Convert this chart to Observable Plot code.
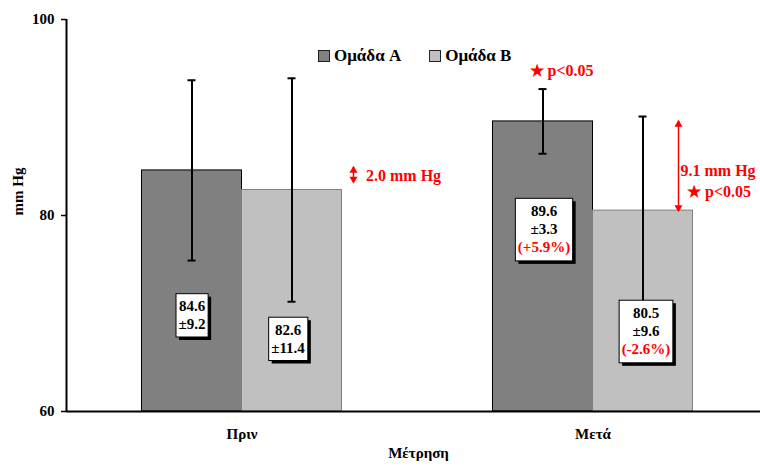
<!DOCTYPE html>
<html><head><meta charset="utf-8">
<script src="https://cdn.jsdelivr.net/npm/d3@7"></script>
<script src="https://cdn.jsdelivr.net/npm/@observablehq/plot@0.6"></script>
<style>
body{margin:0;background:#fff;}
#chart{position:relative;width:760px;height:466px;font-family:'Liberation Serif',serif;}
#legend{position:absolute;top:46px;left:318px;display:flex;align-items:center;font-family:'Liberation Serif',serif;font-size:17px;font-weight:bold;color:#000;}
#legend .item{display:flex;align-items:center;margin-right:28px;}
#legend .sw{width:10px;height:10px;border:1px solid #222;margin-right:4px;}
</style></head><body><div id="chart"><div id="legend"></div></div>
<script>
const categories = ["Πριν", "Μετά"];
const groups = ["Ομάδα A", "Ομάδα B"];
const meansA = [84.6, 89.6];
const meansB = [82.6, 80.5];
const sdA = [9.2, 3.3];
const sdB = [11.4, 9.6];
const changeA = [null, "+5.9%"];
const changeB = [null, "-2.6%"];
const yTicks = [60, 80, 100];
const xTitle = "Μέτρηση";
const yTitle = "mm Hg";
const pText = "p<0.05";

const colors = ["#808080", "#c0c0c0"];
const strokes = ["#000000", "#808080"];
const red = "#ff0000";

const rows = categories.flatMap((c, i) => [
  {cat: c, g: 0, group: groups[0], mean: meansA[i], sd: sdA[i], change: changeA[i]},
  {cat: c, g: 1, group: groups[1], mean: meansB[i], sd: sdB[i], change: changeB[i]}
]);

// layout
const xRange = [66, 768];
const bw = (xRange[1] - xRange[0]) / categories.length;
const half = bw / 2;
const barW = 100;
const capW = 8;
const subOff = [-barW / 2, barW / 2];
// value box placement (annotation layout)
const boxY = [[69.9, 67.5], [78.7, 68.3]];
const boxNudge = [[0, -4], [1, 3]];

const font = "Liberation Serif";
const T = {fontFamily: font, fontWeight: "bold"};

const barMarks = [0, 1].map(g => Plot.barY(rows.filter(d => d.g === g), {
  x: "cat", y1: () => yTicks[0], y2: "mean",
  fill: colors[g], stroke: strokes[g], strokeWidth: 1,
  insetLeft: g === 0 ? half - barW : half,
  insetRight: g === 0 ? half : half - barW
}));

const errMarks = [0, 1].flatMap(g => {
  const data = rows.filter(d => d.g === g);
  const c = half + subOff[g];
  return [
    Plot.ruleX(data, {x: "cat", y1: d => d.mean - d.sd, y2: d => d.mean + d.sd, dx: subOff[g], stroke: "#000", strokeWidth: 2}),
    Plot.tickY(data, {x: "cat", y: d => d.mean + d.sd, insetLeft: c - capW / 2, insetRight: bw - c - capW / 2, stroke: "#000", strokeWidth: 2}),
    Plot.tickY(data, {x: "cat", y: d => d.mean - d.sd, insetLeft: c - capW / 2, insetRight: bw - c - capW / 2, stroke: "#000", strokeWidth: 2})
  ];
});

const boxMarks = rows.map(d => {
  const ci = categories.indexOf(d.cat);
  return Plot.text([d], {
    x: "cat", y: () => boxY[ci][d.g], dx: subOff[d.g] + boxNudge[ci][d.g],
    text: r => `${r.mean.toFixed(1)}\n±${r.sd.toFixed(1)}` + (r.change ? `\n(${r.change})` : ""),
    lineHeight: 1.22, fontSize: 15, ...T, fill: "#000"
  });
});

const diffPre = (meansA[0] - meansB[0]).toFixed(1);
const diffPost = (meansA[1] - meansB[1]).toFixed(1);

// double-headed arrow: shaft + two triangle heads
function dblArrow(cat, ya, yb, dx) {
  const top = Math.max(ya, yb), bot = Math.min(ya, yb);
  return [
    Plot.ruleX([cat], {y1: () => bot, y2: () => top, dx, stroke: red, strokeWidth: 1.5}),
    Plot.dot([cat], {x: d => d, y: () => top, dx, dy: 3, symbol: "triangle", r: 3, fill: red, stroke: "none", rotate: 0}),
    Plot.dot([cat], {x: d => d, y: () => bot, dx, dy: -3, symbol: "triangle", r: 3, fill: red, stroke: "none", rotate: 180})
  ];
}

const annMarks = [
  ...dblArrow(categories[0], meansA[0] + 0.3, meansB[0] + 0.8, 111.5),
  Plot.text([0], {x: () => categories[0], y: () => (meansA[0] + meansB[0]) / 2 + 0.4, dx: 124, text: () => `${diffPre} mm Hg`,
    textAnchor: "start", fill: red, fontSize: 16, ...T}),
  ...dblArrow(categories[1], meansA[1], meansB[1], 85.5),
  Plot.text([0], {x: () => categories[1], y: () => 84.6, dx: 87.5, text: () => `${diffPost} mm Hg`,
    textAnchor: "start", fill: red, fontSize: 16, ...T}),
  Plot.text([0], {x: () => categories[1], y: () => 82.45, dx: 94, text: () => `★ ${pText}`,
    textAnchor: "start", fill: red, fontSize: 16, ...T}),
  Plot.text([0], {x: () => categories[1], y: () => 94.8, dx: -63.5, text: () => `★ ${pText}`,
    textAnchor: "start", fill: red, fontSize: 16, ...T})
];

const chart = Plot.plot({
  width: 760, height: 466,
  marginTop: 19, marginBottom: 55, marginLeft: 66, marginRight: 0,
  style: "font-family: 'Liberation Serif', serif; font-weight: bold; font-size: 15px; background: white; color: #000; overflow: visible;",
  x: {domain: categories, range: xRange, padding: 0},
  y: {domain: [yTicks[0], yTicks[yTicks.length - 1]]},
  marks: [
    ...barMarks,
    ...errMarks,
    Plot.ruleY([yTicks[0]], {stroke: "#000", strokeWidth: 2}),
    Plot.ruleX([categories[0]], {dx: -half, y1: () => yTicks[0], y2: () => yTicks[yTicks.length - 1], stroke: "#000", strokeWidth: 2}),
    Plot.axisY({ticks: yTicks, tickSize: 5, tickPadding: 7, label: null, stroke: "#000", strokeWidth: 1.5, fontSize: 15, ...T}),
    Plot.axisX({tickSize: 0, tickPadding: 17, label: null, fontSize: 15, ...T}),
    Plot.text([yTitle], {frameAnchor: "left", dx: -48, rotate: -90, fontSize: 15, ...T}),
    Plot.text([xTitle], {frameAnchor: "bottom", dx: 5, dy: 46, fontSize: 15, ...T}),
    ...boxMarks,
    ...annMarks
  ]
});

const root = document.getElementById("chart");
root.insertBefore(chart, root.firstChild);

// white value boxes with shadow behind the texts
const ns = "http://www.w3.org/2000/svg";
[...chart.querySelectorAll("text")].filter(t => t.textContent.includes("±")).forEach(t => {
  const tsp = t.querySelectorAll("tspan");
  if (tsp.length === 3) tsp[2].setAttribute("fill", red);
  const b = t.getBBox();
  const px = 2.5, py = 4.5;
  const tr = t.getAttribute("transform");
  const mk = (off, fill, stroke) => {
    const r = document.createElementNS(ns, "rect");
    r.setAttribute("x", b.x - px + off);
    r.setAttribute("y", b.y - py + off);
    r.setAttribute("width", b.width + 2 * px);
    r.setAttribute("height", b.height + 2 * py);
    r.setAttribute("fill", fill);
    if (stroke) { r.setAttribute("stroke", stroke); r.setAttribute("stroke-width", 1); }
    if (tr) r.setAttribute("transform", tr);
    t.parentNode.insertBefore(r, t);
  };
  mk(3, "#000", null);
  mk(0, "#fff", "#000");
});

// legend
const legend = document.getElementById("legend");
groups.forEach((g, i) => {
  const it = document.createElement("div");
  it.className = "item";
  const sw = document.createElement("div");
  sw.className = "sw";
  sw.style.background = colors[i];
  const lb = document.createElement("span");
  lb.textContent = g;
  it.appendChild(sw); it.appendChild(lb);
  legend.appendChild(it);
});
</script>
</body></html>
